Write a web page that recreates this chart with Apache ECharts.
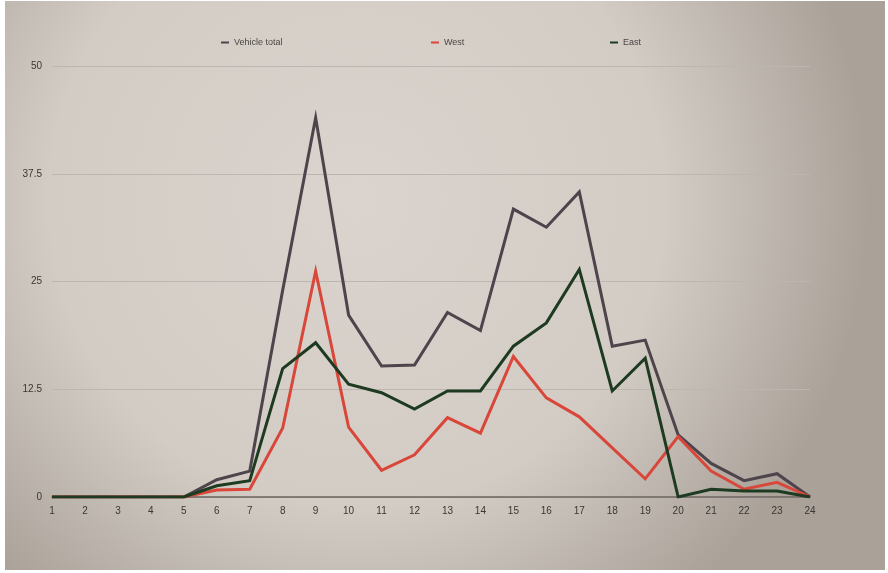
<!DOCTYPE html>
<html>
<head>
<meta charset="utf-8">
<style>
  html, body { margin: 0; padding: 0; background: #ffffff; }
  #chart { width: 888px; height: 573px; }
</style>
<script src="https://cdn.jsdelivr.net/npm/echarts@6/dist/echarts.min.js"></script>
</head>
<body>
<div id="chart"></div>
<script>
// Hourly vehicle counts, split by direction
const hours = ['1','2','3','4','5','6','7','8','9','10','11','12','13','14','15','16','17','18','19','20','21','22','23','24'];
const vehicleTotal = [0, 0, 0, 0, 0, 2.0, 3.0, 24, 44, 21.1, 15.2, 15.3, 21.4, 19.3, 33.4, 31.3, 35.4, 17.5, 18.2, 7.2, 3.9, 1.9, 2.7, 0];
const west = [0, 0, 0, 0, 0, 0.8, 0.9, 8.0, 26.2, 8.1, 3.1, 4.9, 9.2, 7.4, 16.3, 11.5, 9.3, 5.7, 2.1, 7.0, 3.0, 0.9, 1.7, 0];
const east = [0, 0, 0, 0, 0, 1.3, 1.9, 14.9, 17.9, 13.1, 12.1, 10.2, 12.3, 12.3, 17.5, 20.2, 26.4, 12.3, 16.1, 0, 0.9, 0.7, 0.7, 0];
const yTicks = { min: 0, max: 50, interval: 12.5 };

const colors = { total: '#4d444c', west: '#d8473a', east: '#1e3b22' };
const font = 'Liberation Sans, Arial, sans-serif';

const chart = echarts.init(document.getElementById('chart'), null, { renderer: 'canvas' });

function legendFor(name, left) {
  return {
    data: [name],
    top: 33,
    left: left,
    icon: 'rect',
    itemWidth: 8,
    itemHeight: 2,
    itemGap: 6,
    textStyle: { color: '#4a4644', fontSize: 9, fontFamily: font }
  };
}

function lineSeries(name, data, color) {
  return {
    name: name,
    type: 'line',
    data: data,
    symbol: 'none',
    smooth: false,
    lineStyle: { color: color, width: 3, join: 'miter' },
    itemStyle: { color: color }
  };
}

chart.setOption({
  backgroundColor: '#ffffff',
  animation: false,
  graphic: [{
    type: 'rect',
    z: -10,
    silent: true,
    shape: { x: 5, y: 1, width: 880, height: 569 },
    style: {
      fill: {
        type: 'radial', x: 0.4, y: 0.35, r: 0.9,
        colorStops: [
          { offset: 0, color: '#dbd4ce' },
          { offset: 0.6, color: '#d3ccc5' },
          { offset: 1, color: '#aaa299' }
        ]
      }
    }
  }],
  legend: [
    legendFor('Vehicle total', 216),
    legendFor('West', 426),
    legendFor('East', 605)
  ],
  grid: { left: 52, right: 78, top: 66, bottom: 76, containLabel: false },
  xAxis: {
    type: 'category',
    data: hours,
    boundaryGap: false,
    axisLine: { show: true, lineStyle: { color: '#6b635d', width: 1.5 } },
    axisTick: { show: false },
    axisLabel: { color: '#3a3634', fontSize: 10, margin: 9, fontFamily: font },
    splitLine: { show: false }
  },
  yAxis: {
    type: 'value',
    min: yTicks.min,
    max: yTicks.max,
    interval: yTicks.interval,
    axisLine: { show: false },
    axisTick: { show: false },
    axisLabel: { color: '#3a3634', fontSize: 10, margin: 10, fontFamily: font },
    splitLine: { show: true, lineStyle: { color: '#bdb6b0', width: 1 } }
  },
  series: [
    lineSeries('Vehicle total', vehicleTotal, colors.total),
    lineSeries('West', west, colors.west),
    lineSeries('East', east, colors.east)
  ]
});
</script>
</body>
</html>
